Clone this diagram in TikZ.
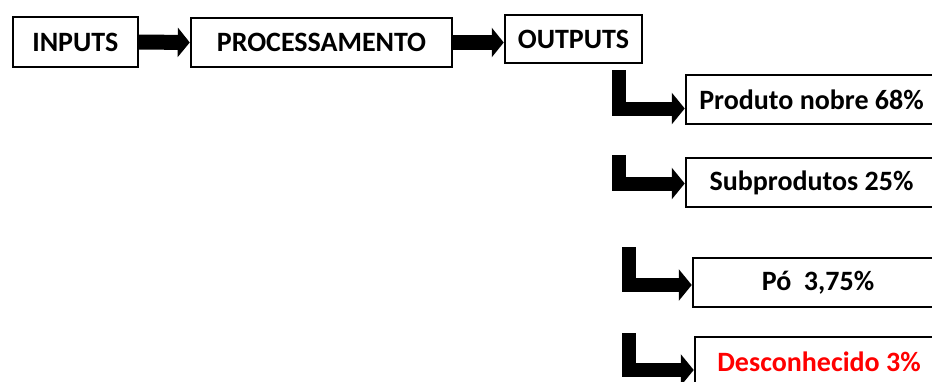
\documentclass[tikz,border=0pt]{standalone}
\usepackage{fontspec}
\setmainfont{Carlito}
\usetikzlibrary{arrows.meta}
\begin{document}
\begin{tikzpicture}[x=1pt,y=-1pt,
  box/.style={draw=black, line width=2.5pt, fill=white, inner sep=0pt, minimum height=49pt,
    font=\fontsize{28}{32}\selectfont\bfseries},
  flow/.style={draw=black, line width=15pt, -{Triangle[length=12pt,width=29pt]}},
  elbow/.style={draw=black, line width=14pt, line join=miter, -{Triangle[length=13pt,width=31pt]}}]
\useasboundingbox (0,0) rectangle (932,381);
\clip (0,0) rectangle (932,381);
% top row
\node[box, minimum width=125pt, minimum height=50pt] (in) at (75.3,42) {INPUTS};
\node[box, minimum width=261pt] (proc) at (321.5,42.5) {PROCESSAMENTO};
\node[box, minimum width=137pt, minimum height=48pt] (out) at (573.5,39) {OUTPUTS};
\draw[flow] (in.east) -- (proc.west);
\draw[flow] (proc.east) -- (proc.east -| out.west);
% output boxes
\node[box, minimum width=251pt] (b1) at (811.5,99.5) {Produto nobre 68\%};
\node[box, minimum width=251pt] (b2) at (811.5,182.5) {Subprodutos 25\%};
\node[box, minimum width=250pt] (b3) at (818,282.5) {Pó\ \ 3,75\%};
\node[box, minimum width=248pt] (b4) at (819,361.5) {\textcolor{red}{Desconhecido 3\%}};
% elbow connectors
\coordinate (s1) at (618.5,70);
\coordinate (s2) at (618.5,155);
\coordinate (s3) at (628.5,247);
\coordinate (s4) at (628.5,333);
\draw[elbow] (s1) |- ([yshift=-9pt]b1.west);
\draw[elbow] (s2) |- ([yshift=-1pt]b2.west);
\draw[elbow] (s3) |- ([yshift=-2.5pt]b3.west);
\draw[elbow] (s4) |- ([yshift=-8.5pt]b4.west);
\end{tikzpicture}
\end{document}
